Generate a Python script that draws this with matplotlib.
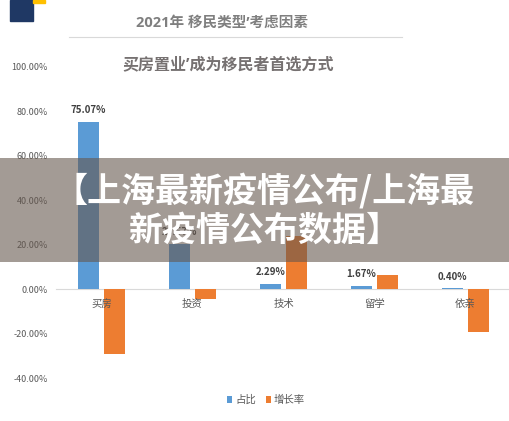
import matplotlib
matplotlib.use('Agg')
import matplotlib.pyplot as plt
from matplotlib.patches import Rectangle
import numpy as np

plt.rcParams['font.family'] = ['Noto Sans CJK SC', 'DejaVu Sans']

# data
categories = ['买房', '投资', '技术', '留学', '依亲']
share = [75.07, 20.57, 2.29, 1.67, 0.40]      # 占比
growth = [-29.0, -4.5, 24.0, 6.3, -19.0]      # 增长率
yticks = [-40, -20, 0, 20, 40, 60, 80, 100]

title = '2021年 移民类型’考虑因素'
subtitle = '买房置业’成为移民者首选方式'
banner = '【上海最新疫情公布/上海最\n新疫情公布数据】'

W, H = 509, 421
fig = plt.figure(figsize=(W / 100, H / 100), dpi=100)
fig.patch.set_facecolor('white')

ax = fig.add_axes([56 / W, (H - 378.3) / H, 455 / W, (378.3 - 66.8) / H])
ax.set_axisbelow(False)
x = np.arange(len(categories))
bw = 0.225
off = 0.143
blue = '#5b9bd5'
orange = '#ed7d31'
ax.bar(x - off, share, bw, color=blue, label='占比', zorder=2)
ax.bar(x + off, growth, bw, color=orange, label='增长率', zorder=2)

for xi, v in zip(x, share):
    ax.annotate(f'{v:.2f}%', (xi - off, v), xytext=(0, 8.5), textcoords='offset points',
                ha='center', va='center', fontsize=7, fontweight='bold', color='#404040')

ax.set_xlim(-0.5, len(categories) - 0.5)
ax.set_ylim(-40, 100)
ax.set_yticks(yticks)
ax.set_yticklabels([f'{v:.2f}%' for v in yticks])
ax.set_xticks(x)
ax.set_xticklabels(categories)
for s in ['top', 'right', 'left']:
    ax.spines[s].set_visible(False)
ax.spines['bottom'].set_position(('data', 0))
ax.spines['bottom'].set_color('#d9d9d9')
ax.spines['bottom'].set_zorder(1)
ax.tick_params(axis='both', length=0, labelsize=6.5, colors='#595959')
ax.tick_params(axis='y', pad=6)
ax.tick_params(axis='x', pad=7, labelsize=7.5)
ax.set_facecolor('none')

leg = fig.legend(loc='center', bbox_to_anchor=(266 / W, (H - 400) / H), ncol=2, frameon=False,
                 fontsize=7.5, handlelength=0.5, handleheight=0.6, handletextpad=0.3,
                 columnspacing=0.9)
for t in leg.get_texts():
    t.set_color('#595959')

# header decorations
head_font = ['Open Sans', 'Noto Sans CJK SC']
fig.patches.append(Rectangle((10 / W, 1 - 21 / H), 23 / W, 21 / H, transform=fig.transFigure,
                             color='#1f3864', zorder=1))
fig.patches.append(Rectangle((33 / W, 1 - 3 / H), 12 / W, 3 / H, transform=fig.transFigure,
                             color='#ffc000', zorder=1))
fig.text(222 / W, 1 - 23 / H, title, ha='center', va='center', fontsize=10.5,
         fontweight='bold', color='#7f7f7f', family=head_font)
fig.add_artist(plt.Line2D([69 / W, 402 / W], [1 - 37 / H, 1 - 37 / H], color='#d9d9d9', lw=0.8))
fig.text(228 / W, 1 - 65 / H, subtitle, ha='center', va='center', fontsize=11.5,
         fontweight='bold', color='#767171', family=head_font)

# semi-transparent banner with white text
fig.patches.append(Rectangle((0, (H - 262) / H), 1, 104 / H, transform=fig.transFigure,
                             facecolor=(102 / 255, 88 / 255, 78 / 255), alpha=0.6,
                             edgecolor='none', zorder=5))
fig.text(264 / W, 1 - 210 / H, banner, ha='center', va='center', fontsize=24.5,
         fontweight='heavy', color='white', linespacing=1.15, zorder=6)

fig.savefig('out.png', dpi=100)
